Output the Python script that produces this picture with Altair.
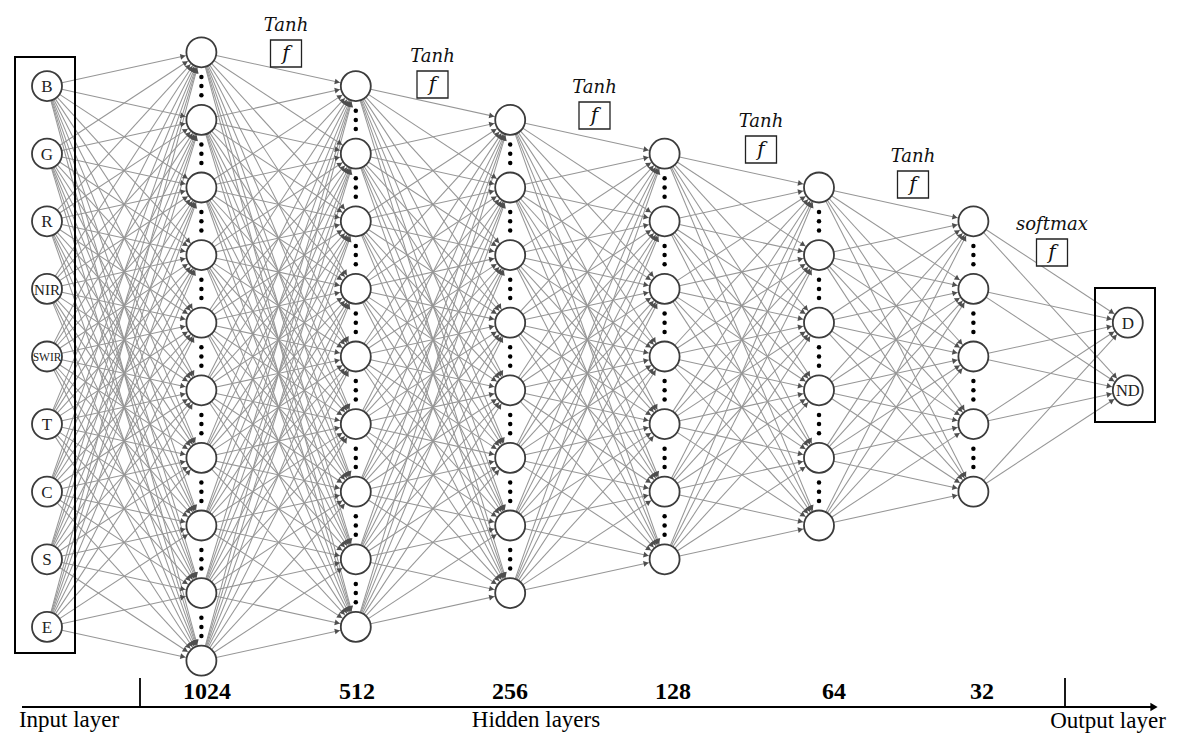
import math
import altair as alt
import pandas as pd

# ---------------- data ----------------
INPUT_LABELS = ["B", "G", "R", "NIR", "SWIR", "T", "C", "S", "E"]
HIDDEN_SIZES = ["1024", "512", "256", "128", "64", "32"]
HIDDEN_NODES = [10, 9, 8, 7, 6, 5]          # nodes drawn per hidden layer
OUTPUT_LABELS = ["D", "ND"]
ACTIVATIONS = ["Tanh", "Tanh", "Tanh", "Tanh", "Tanh", "softmax"]
AXIS_TITLES = ["Input layer", "Hidden layers", "Output layer"]

# ---------------- layout (page pixels -> data units) ----------------
X0, DXP = 47.0, 154.4      # page x of layer 0, pixels per layer
Y0, DYP = 356.5, 67.6      # page y of the centre slot, pixels per slot
W, H = 1170, 726
R = 15.5                   # node radius in px


def ux(px):
    return (px - X0) / DXP


def uy(py):
    return (py - Y0) / DYP


XS = alt.Scale(domain=[ux(8), ux(8 + W)], nice=False, zero=False)
YS = alt.Scale(domain=[uy(8), uy(8 + H)], nice=False, zero=False, reverse=True)
X = lambda f="x": alt.X(f"{f}:Q", scale=XS, axis=None)
Y = lambda f="y": alt.Y(f"{f}:Q", scale=YS, axis=None)

LABEL_FS = {"NIR": 15, "SWIR": 11.5, "ND": 16.5}

layers = [INPUT_LABELS] + [[""] * n for n in HIDDEN_NODES] + [OUTPUT_LABELS]


def slots(L):
    n = len(layers[L])
    return [i - (n - 1) / 2 for i in range(n)]


nodes = []
for L, labs in enumerate(layers):
    for s, lab in zip(slots(L), labs):
        nodes.append({"x": L, "y": s, "label": lab, "fs": LABEL_FS.get(lab, 17)})
ndf = pd.DataFrame(nodes)

edges, heads = [], []
for L in range(len(layers) - 1):
    for sa in slots(L):
        for sb in slots(L + 1):
            edges.append({"x": L, "y": sa, "x2": L + 1, "y2": sb})
            dx = DXP
            dy = (sb - sa) * DYP
            d = math.hypot(dx, dy)
            off = R + 3.4
            heads.append({
                "x": L + 1 - dx / d * off / DXP,
                "y": sb - dy / d * off / DYP,
                "ang": math.degrees(math.atan2(dy, dx)) % 360,
            })
edf = pd.DataFrame(edges)
hdf = pd.DataFrame(heads)

dots = []
for L in range(1, 1 + len(HIDDEN_NODES)):
    ss = slots(L)
    for a, b in zip(ss[:-1], ss[1:]):
        mid = (a + b) / 2
        for k in (-1, 0, 1):
            dots.append({"x": L, "y": mid + k * 9.2 / DYP})
ddf = pd.DataFrame(dots)

# activation labels and boxes
ACT_X_PX = [286, 432.5, 594.5, 761, 913, 1052]
ACT_Y_PX = [26, 57, 88, 122, 157, 225]
act = pd.DataFrame({
    "name": ACTIVATIONS,
    "x": [ux(v) for v in ACT_X_PX],
    "y": [uy(v) for v in ACT_Y_PX],
    "bx": [ux(v - 15.5) for v in ACT_X_PX],
    "bx2": [ux(v + 15.5) for v in ACT_X_PX],
    "by": [uy(v + 14) for v in ACT_Y_PX],
    "by2": [uy(v + 41) for v in ACT_Y_PX],
    "fy": [uy(v + 27.5) for v in ACT_Y_PX],
    "f": ["f"] * len(ACTIVATIONS),
})

SIZE_X_PX = [207, 357, 510, 673, 834, 982]
sizes = pd.DataFrame({"t": HIDDEN_SIZES, "x": [ux(v) for v in SIZE_X_PX],
                      "y": [uy(692)] * len(HIDDEN_SIZES)})

titles = pd.DataFrame({"t": AXIS_TITLES,
                       "x": [ux(69), ux(536), ux(1108)],
                       "y": [uy(720), uy(720), uy(721)]})

boxes = pd.DataFrame({"x": [ux(15), ux(1095)], "x2": [ux(75), ux(1155)],
                      "y": [uy(57), uy(288)], "y2": [uy(653), uy(422)]})

axis_line = pd.DataFrame({"x": [ux(22)], "x2": [ux(1152)], "y": [uy(707)], "y2": [uy(707)]})
axis_ticks = pd.DataFrame({"x": [ux(140), ux(1065)], "x2": [ux(140), ux(1065)],
                           "y": [uy(678), uy(678)], "y2": [uy(707), uy(707)]})
axis_head = pd.DataFrame({"x": [ux(1154)], "y": [uy(707)]})

# ---------------- marks ----------------
edge_c = alt.Chart(edf).mark_rule(color="#969696", strokeWidth=1.05).encode(
    x=X(), y=Y(), x2="x2:Q", y2="y2:Q")

head_c = alt.Chart(hdf).mark_point(shape="triangle-right", filled=True, color="#4e4e4e",
                                   size=34, opacity=1).encode(
    x=X(), y=Y(), angle=alt.Angle("ang:Q", scale=None))

node_c = alt.Chart(ndf).mark_point(shape="circle", filled=True, fill="white", stroke="#3c3c3c",
                                   strokeWidth=1.8, size=900, opacity=1).encode(x=X(), y=Y())

node_t = alt.Chart(ndf[ndf.label != ""]).mark_text(
    font="Liberation Serif", color="#222222", baseline="middle", align="center", dy=1).encode(
    x=X(), y=Y(), text="label:N", size=alt.Size("fs:Q", scale=None, legend=None))

dot_c = alt.Chart(ddf).mark_point(shape="circle", filled=True, color="black", size=20,
                                  opacity=1).encode(x=X(), y=Y())

act_box = alt.Chart(act).mark_rect(fill="white", stroke="#222222", strokeWidth=1.3).encode(
    x=X("bx"), x2="bx2:Q", y=Y("by"), y2="by2:Q")
act_t = alt.Chart(act).mark_text(font="DejaVu Serif", fontStyle="italic", fontSize=18,
                                 color="#111111", baseline="middle").encode(
    x=X(), y=Y(), text="name:N")
act_f = alt.Chart(act).mark_text(font="DejaVu Serif", fontStyle="italic", fontSize=20,
                                 color="#111111", baseline="middle").encode(
    x=X(), y=Y("fy"), text="f:N")

box_c = alt.Chart(boxes).mark_rect(fillOpacity=0, stroke="black", strokeWidth=2).encode(
    x=X(), x2="x2:Q", y=Y(), y2="y2:Q")

ax_l = alt.Chart(axis_line).mark_rule(color="black", strokeWidth=1.8).encode(
    x=X(), x2="x2:Q", y=Y(), y2="y2:Q")
ax_t = alt.Chart(axis_ticks).mark_rule(color="black", strokeWidth=1.8).encode(
    x=X(), x2="x2:Q", y=Y(), y2="y2:Q")
ax_h = alt.Chart(axis_head).mark_point(shape="triangle-right", filled=True, color="black",
                                       size=70, opacity=1).encode(x=X(), y=Y())

size_t = alt.Chart(sizes).mark_text(font="Liberation Serif", fontWeight="bold", fontSize=24,
                                    color="black", baseline="middle").encode(
    x=X(), y=Y(), text="t:N")
title_t = alt.Chart(titles).mark_text(font="Liberation Serif", fontSize=23, color="black",
                                      baseline="middle").encode(
    x=X(), y=Y(), text="t:N")

chart = alt.layer(
    edge_c, head_c, node_c, node_t, dot_c, act_box, act_t, act_f, box_c,
    ax_l, ax_t, ax_h, size_t, title_t
).properties(width=W, height=H, padding=0, autosize="none", background="white"
).configure_view(strokeWidth=0)

chart.save("out.html", embed_options={"renderer": "svg", "actions": False})
